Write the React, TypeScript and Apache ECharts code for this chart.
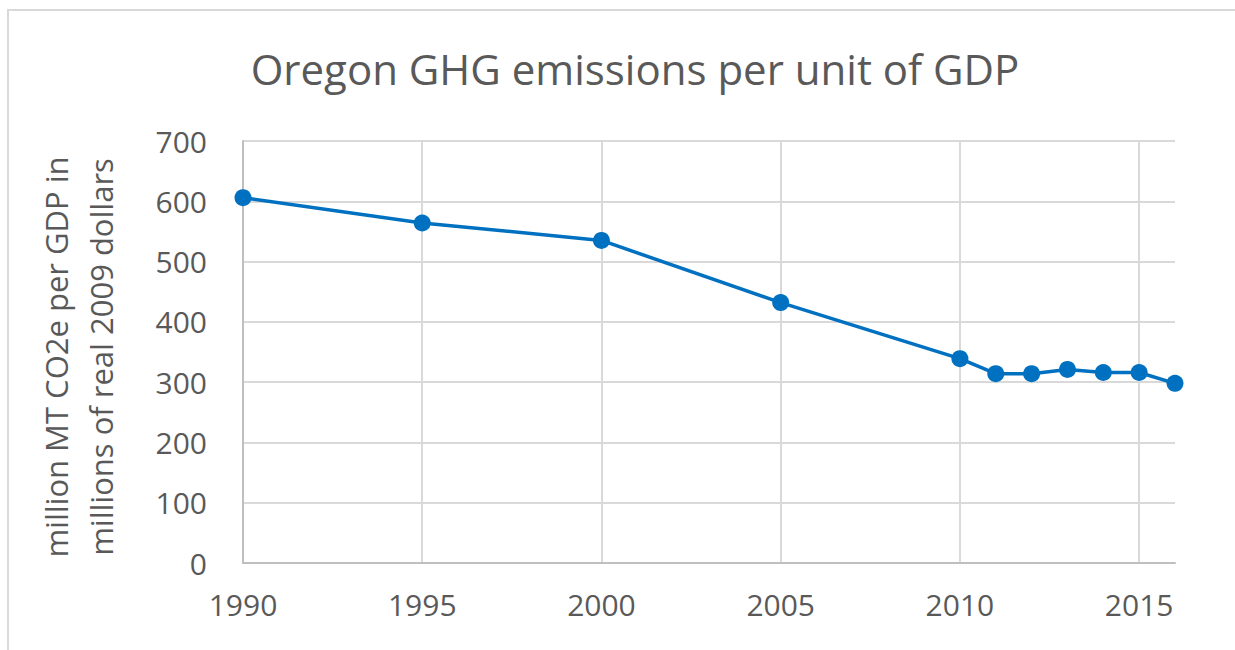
import React, { useEffect, useRef } from "react";
import * as echarts from "echarts";

const years: number[] = [1990, 1995, 2000, 2005, 2010, 2011, 2012, 2013, 2014, 2015, 2016];
const intensity: number[] = [606, 564, 535, 432, 339, 314, 314, 321, 316, 316, 298];
const titleText = "Oregon GHG emissions per unit of GDP";
const yTitleLines: string[] = ["million MT CO2e per GDP in", "millions of real 2009 dollars"];

const FONT = "'Open Sans', 'Noto Sans', sans-serif";
const TXT = "#595959";

export default function App() {
  const ref = useRef<HTMLDivElement>(null);
  useEffect(() => {
    if (!ref.current) return;
    const chart = echarts.init(ref.current, undefined, { renderer: "svg" });
    chart.setOption({
      animation: false,
      backgroundColor: "#ffffff",
      textStyle: { fontFamily: FONT },
      title: {
        text: titleText,
        left: 630,
        top: 42,
        textAlign: "center",
        textStyle: { fontFamily: FONT, fontSize: 42, fontWeight: "normal", color: TXT },
      },
      grid: { left: 243, right: 60, top: 141, bottom: 87, containLabel: false },
      xAxis: {
        type: "value",
        min: 1990,
        max: 2016,
        interval: 5,
        axisLine: { show: true, lineStyle: { color: "#bfbfbf", width: 2 } },
        axisTick: { show: false },
        axisLabel: {
          color: TXT,
          fontSize: 30,
          fontFamily: FONT,
          margin: 26,
          showMaxLabel: false,
          formatter: (v: number) => (v === 2016 ? "" : String(v)),
        },
        splitLine: { show: true, showMaxLine: false, showMinLine: false, lineStyle: { color: "#d9d9d9", width: 2 } },
      },
      yAxis: {
        type: "value",
        min: 0,
        max: 700,
        interval: 100,
        axisLine: { show: true, lineStyle: { color: "#bfbfbf", width: 2 } },
        axisTick: { show: false },
        axisLabel: { color: TXT, fontSize: 30, fontFamily: FONT, margin: 36 },
        splitLine: { show: true, lineStyle: { color: "#d9d9d9", width: 2 } },
      },
      graphic: [
        {
          type: "rect",
          shape: { x: 8, y: 10, width: 1260, height: 700 },
          style: { fill: "none", stroke: "#d9d9d9", lineWidth: 2 },
          silent: true,
        },
        {
          type: "text",
          x: 56,
          y: 357,
          rotation: Math.PI / 2,
          style: {
            text: yTitleLines[0],
            fill: TXT,
            font: `31px ${FONT}`,
            align: "center",
            verticalAlign: "middle",
          },
        },
        {
          type: "text",
          x: 101,
          y: 357,
          rotation: Math.PI / 2,
          style: {
            text: yTitleLines[1],
            fill: TXT,
            font: `31px ${FONT}`,
            align: "center",
            verticalAlign: "middle",
          },
        },
      ],
      series: [
        {
          type: "line",
          data: years.map((y, i) => [y, intensity[i]]),
          symbol: "circle",
          symbolSize: 17,
          lineStyle: { color: "#0070C0", width: 3.5 },
          itemStyle: { color: "#0070C0" },
          clip: false,
        },
      ],
    });
    return () => chart.dispose();
  }, []);
  return (
    <div
      ref={ref}
      style={{ position: "fixed", left: 0, top: 0, width: 1235, height: 650 }}
    />
  );
}
